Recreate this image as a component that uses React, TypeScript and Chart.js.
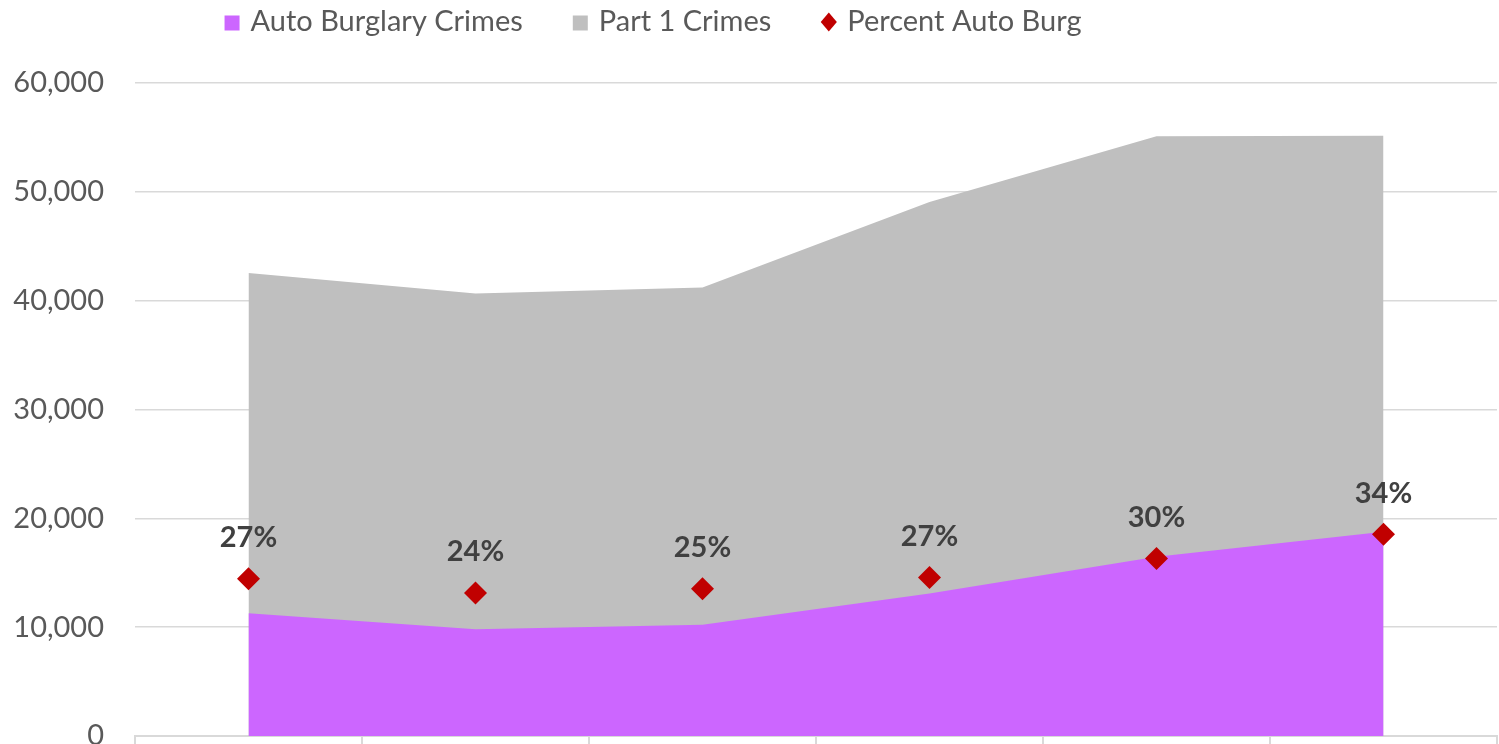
import React, { useEffect, useRef } from "react";
import { Chart, registerables } from "chart.js";

Chart.register(...registerables);

const categories = ["2012", "2013", "2014", "2015", "2016", "2017"];
const autoBurglaryCrimes = [11270, 9800, 10220, 13100, 16470, 18760];
const part1Crimes = [42550, 40650, 41200, 49060, 55100, 55160];
const percentAutoBurg = [0.265, 0.241, 0.248, 0.267, 0.299, 0.34];
const seriesNames = ["Auto Burglary Crimes", "Part 1 Crimes", "Percent Auto Burg"];

const FONT = "Lato, 'Liberation Sans', sans-serif";
const PURPLE = "#CC66FF";
const GRAY = "#BFBFBF";
const RED = "#C00000";

const dataLabelPlugin = {
  id: "pctLabels",
  afterDatasetsDraw(chart: any) {
    const meta = chart.getDatasetMeta(2);
    const ctx = chart.ctx;
    ctx.save();
    ctx.font = `bold 29px ${FONT}`;
    ctx.fillStyle = "#404040";
    ctx.textAlign = "center";
    ctx.textBaseline = "middle";
    meta.data.forEach((pt: any, i: number) => {
      ctx.fillText(Math.round(percentAutoBurg[i] * 100) + "%", pt.x, pt.y - 41);
    });
    ctx.restore();
  },
};

const legendPlugin = {
  id: "customLegend",
  afterDraw(chart: any) {
    const ctx = chart.ctx;
    ctx.save();
    ctx.font = `29px ${FONT}`;
    ctx.textBaseline = "middle";
    const box = 15;
    const gap = 11;
    const spacing = 50;
    const colors = [PURPLE, GRAY, RED];
    const widths = seriesNames.map((n) => box + gap + ctx.measureText(n).width);
    const total = widths.reduce((a, b) => a + b, 0) + spacing * (widths.length - 1);
    const centerX = 653;
    const cy = 22;
    let x = centerX - total / 2;
    seriesNames.forEach((name, i) => {
      ctx.fillStyle = colors[i];
      if (i === 2) {
        const r = 9.5;
        const cx = x + box / 2;
        ctx.beginPath();
        ctx.moveTo(cx, cy - r);
        ctx.lineTo(cx + r * 0.85, cy);
        ctx.lineTo(cx, cy + r);
        ctx.lineTo(cx - r * 0.85, cy);
        ctx.closePath();
        ctx.fill();
      } else {
        ctx.fillRect(x, cy - box / 2 + 1, box, box);
      }
      ctx.fillStyle = "#595959";
      ctx.textAlign = "left";
      ctx.fillText(name, x + box + gap, cy);
      x += widths[i] + spacing;
    });
    ctx.restore();
  },
};

export default function App() {
  const ref = useRef<HTMLCanvasElement>(null);

  useEffect(() => {
    const chart = new Chart(ref.current as HTMLCanvasElement, {
      type: "line",
      data: {
        labels: categories,
        datasets: [
          {
            label: seriesNames[0],
            data: autoBurglaryCrimes,
            backgroundColor: PURPLE,
            borderColor: PURPLE,
            borderWidth: 0,
            pointRadius: 0,
            fill: "origin",
            tension: 0,
            yAxisID: "y",
            order: 1,
          },
          {
            label: seriesNames[1],
            data: part1Crimes,
            backgroundColor: GRAY,
            borderColor: GRAY,
            borderWidth: 0,
            pointRadius: 0,
            fill: "origin",
            tension: 0,
            yAxisID: "y",
            order: 2,
          },
          {
            label: seriesNames[2],
            data: percentAutoBurg,
            showLine: false,
            backgroundColor: RED,
            borderColor: RED,
            borderWidth: 0,
            pointStyle: "rectRot",
            pointRadius: 11.5,
            fill: false,
            clip: false,
            yAxisID: "y2",
            order: 0,
          },
        ],
      },
      options: {
        animation: false,
        responsive: false,
        layout: { autoPadding: false, padding: { top: 83, right: 2, left: 0, bottom: 0 } },
        plugins: {
          legend: { display: false },
          tooltip: { enabled: false },
        },
        scales: {
          x: {
            type: "category",
            offset: true,
            afterFit: (scale: any) => {
              scale.height = 8;
              scale.paddingLeft = 0;
              scale.paddingRight = 0;
            },
            grid: {
              offset: true,
              drawOnChartArea: false,
              drawTicks: true,
              tickLength: 8,
              color: "#D9D9D9",
              lineWidth: 2,
            },
            border: { color: "#D9D9D9", width: 2 },
            ticks: { display: false },
          },
          y: {
            min: 0,
            max: 60000,
            afterFit: (scale: any) => {
              scale.width = 135;
              scale.paddingBottom = 0;
              scale.paddingTop = 0;
            },
            ticks: {
              stepSize: 10000,
              padding: 31,
              color: "#595959",
              font: { family: FONT, size: 29 },
              callback: (v: any) => Number(v).toLocaleString("en-US"),
            },
            grid: { color: "#D9D9D9", lineWidth: 1.5, drawTicks: false },
            border: { display: false },
          },
          y2: {
            display: false,
            min: 0,
            max: 1.1,
          },
        },
      },
      plugins: [dataLabelPlugin, legendPlugin],
    });
    return () => chart.destroy();
  }, []);

  return (
    <div
      style={{
        position: "fixed",
        left: 0,
        top: 0,
        width: 1499,
        height: 744,
        background: "#ffffff",
        overflow: "hidden",
      }}
    >
      <canvas ref={ref} width={1499} height={744} style={{ display: "block" }} />
    </div>
  );
}
